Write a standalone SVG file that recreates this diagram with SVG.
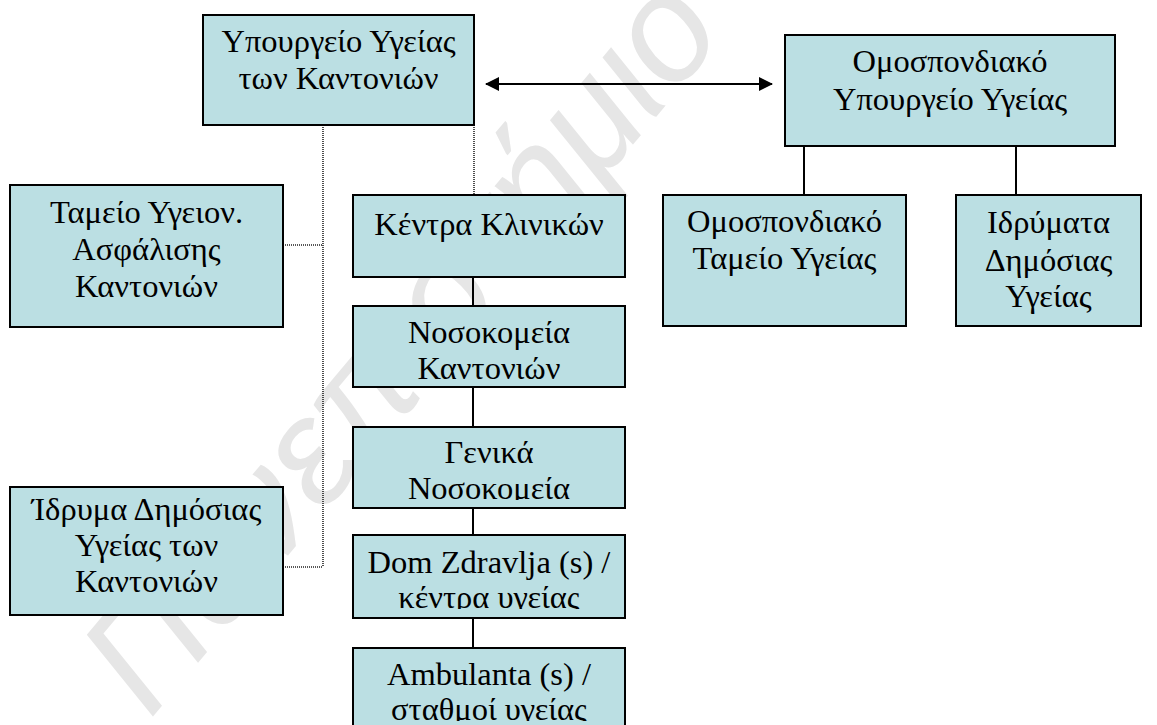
<svg xmlns="http://www.w3.org/2000/svg" width="1157" height="725" viewBox="0 0 1157 725">
<style>
.box{fill:#bbdfe3;stroke:#000;stroke-width:2}
.t{font-size:32.5px;fill:#000;text-anchor:middle}
.dot{stroke:#222;stroke-width:1.6;stroke-dasharray:1 1;fill:none}
.sol{stroke:#000;stroke-width:2;fill:none}
.wm{font-style:italic;font-size:150px;fill:#e6e6e6}
</style>
<defs>
<marker id="ah" viewBox="0 0 14 14" refX="13" refY="7" markerWidth="14" markerHeight="14" markerUnits="userSpaceOnUse" orient="auto-start-reverse">
<path d="M0,0 L14,7 L0,14 Z" fill="#000"/>
</marker>
<clipPath id="c7"><rect x="353" y="427" width="272" height="73"/></clipPath>
<clipPath id="c8"><rect x="353" y="535" width="272" height="74"/></clipPath>
<clipPath id="c9"><rect x="353" y="648" width="272" height="73"/></clipPath>
</defs>
<rect width="1157" height="725" fill="#fff"/>
<text class="wm" font-family="Liberation Sans, Arial, sans-serif" transform="translate(150,720) rotate(-50)">Πανεπιστήμιο</text>
<g id="connectors">
<path class="dot" d="M323,125 V567 M283,245 H323 M283,567 H323 M474,125 V195"/>
<path class="sol" d="M473,277 V306 M473,387 V427 M473,508 V535 M473,618 V648 M804,146 V195 M1016,146 V195"/>
<line class="sol" x1="486" y1="84" x2="772" y2="84" marker-start="url(#ah)" marker-end="url(#ah)"/>
</g>
<g font-family="'Liberation Serif', 'Times New Roman', 'DejaVu Serif', serif">
<g id="n1"><rect class="box" x="203" y="15" width="271" height="110"/><text class="t" x="338.5" y="52">Υπουργείο Υγείας</text><text class="t" x="338.5" y="89">των Καντονιών</text></g>
<g id="n2"><rect class="box" x="785" y="35" width="330" height="111"/><text class="t" x="950" y="72">Ομοσπονδιακό</text><text class="t" x="950" y="110">Υπουργείο Υγείας</text></g>
<g id="n3"><rect class="box" x="10" y="185" width="273" height="142"/><text class="t" x="146.5" y="223">Ταμείο Υγειον.</text><text class="t" x="146.5" y="260">Ασφάλισης</text><text class="t" x="146.5" y="297">Καντονιών</text></g>
<g id="n4"><rect class="box" x="10" y="487" width="273" height="128"/><text class="t" x="146.5" y="520">Ίδρυμα Δημόσιας</text><text class="t" x="146.5" y="556">Υγείας των</text><text class="t" x="146.5" y="592">Καντονιών</text></g>
<g id="n5"><rect class="box" x="353" y="195" width="272" height="82"/><text class="t" x="489" y="235">Κέντρα Κλινικών</text></g>
<g id="n6"><rect class="box" x="353" y="306" width="272" height="81"/><text class="t" x="489" y="343">Νοσοκομεία</text><text class="t" x="489" y="379">Καντονιών</text></g>
<g id="n7"><rect class="box" x="353" y="427" width="272" height="81"/><g clip-path="url(#c7)"><text class="t" x="489" y="463">Γενικά</text><text class="t" x="489" y="499">Νοσοκομεία</text></g></g>
<g id="n8"><rect class="box" x="353" y="535" width="272" height="83"/><g clip-path="url(#c8)"><text class="t" x="489" y="573">Dom Zdravlja (s) /</text><text class="t" x="489" y="608">κέντρα υγείας</text></g></g>
<g id="n9"><rect class="box" x="353" y="648" width="272" height="82"/><g clip-path="url(#c9)"><text class="t" x="489" y="685">Ambulanta (s) /</text><text class="t" x="489" y="720">σταθμοί υγείας</text></g></g>
<g id="n10"><rect class="box" x="663" y="195" width="243" height="131"/><text class="t" x="784.5" y="232">Ομοσπονδιακό</text><text class="t" x="784.5" y="269">Ταμείο Υγείας</text></g>
<g id="n11"><rect class="box" x="956" y="195" width="185" height="131"/><text class="t" x="1048.5" y="233">Ιδρύματα</text><text class="t" x="1048.5" y="271">Δημόσιας</text><text class="t" x="1048.5" y="307">Υγείας</text></g>
</g>
</svg>
